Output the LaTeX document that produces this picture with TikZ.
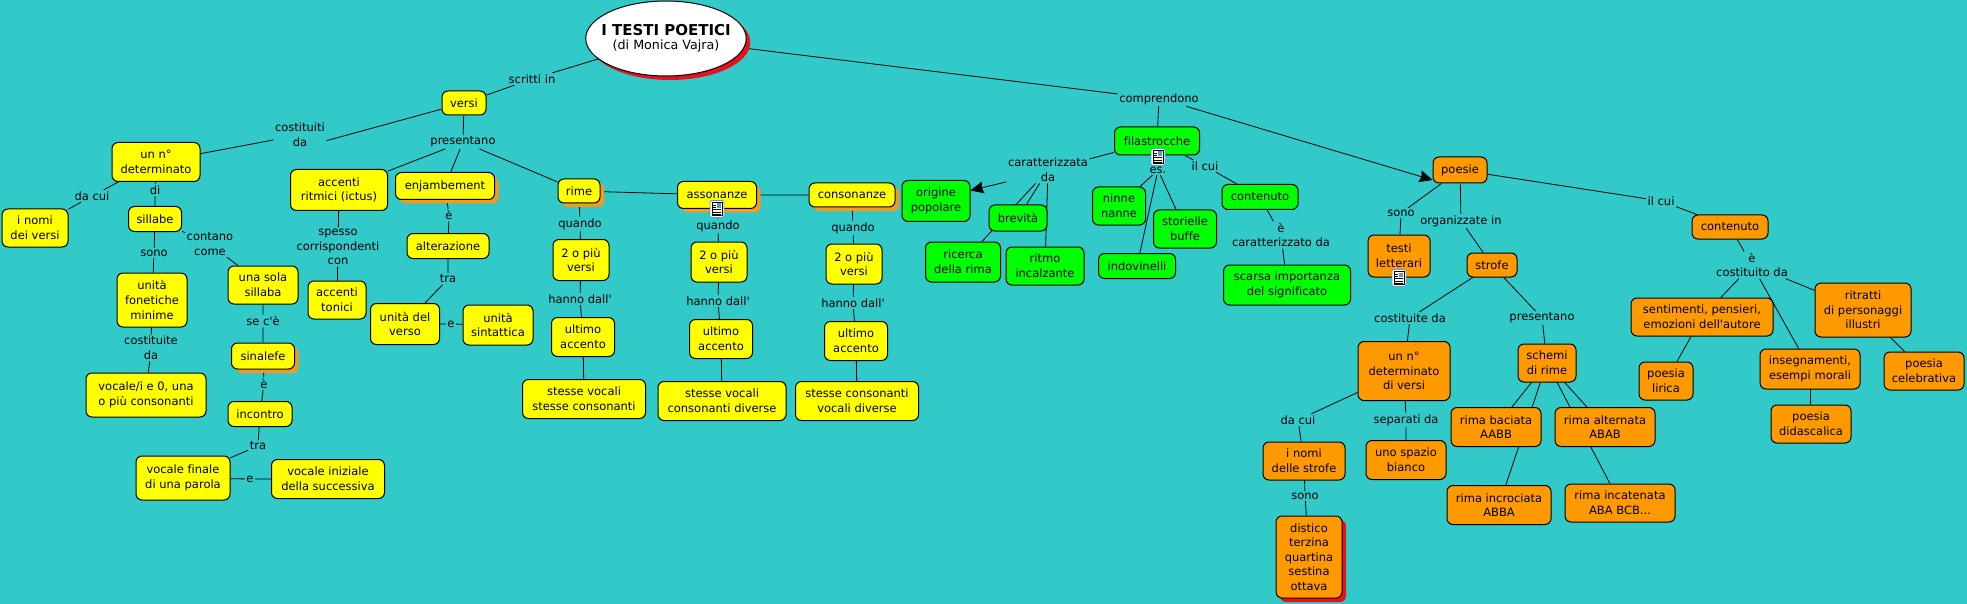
\documentclass[tikz,border=0pt]{standalone}
\usepackage{fontspec}
\defaultfontfeatures[\rmfamily]{}
\setmainfont{DejaVu Sans}[Ligatures=NoCommon]
\usetikzlibrary{shapes.geometric,shadows,positioning,arrows.meta,backgrounds}
\definecolor{seabg}{HTML}{32C9C9}
\definecolor{boxyel}{HTML}{FFFF00}
\definecolor{boxgrn}{HTML}{00FF00}
\definecolor{boxora}{HTML}{FF9900}
\definecolor{shadora}{HTML}{F59A1C}
\definecolor{shadred}{HTML}{E8101C}
\definecolor{icoblu}{HTML}{5C9CE0}
\definecolor{icocream}{HTML}{FFFFE0}
\tikzset{
  mapfont/.style={font=\fontsize{11.5}{14.6}\selectfont},
  sz/.style 2 args={minimum width=#1pt,minimum height=#2pt},
  box/.style={draw=black,line width=1pt,rounded corners=6pt,inner sep=0pt,align=center,mapfont},
  yel/.style={box,fill=boxyel},
  grn/.style={box,fill=boxgrn},
  ora/.style={box,fill=boxora},
  shora/.style={drop shadow={shadow xshift=4pt,shadow yshift=-4pt,fill=shadora,opacity=1}},
  shred/.style={drop shadow={shadow xshift=4pt,shadow yshift=-4pt,fill=shadred,opacity=1}},
  lnk/.style={inner sep=1.5pt,align=center,mapfont},
  conn/.style={draw=black,line width=.8pt},
  arr/.style={conn,-{Stealth[length=13pt,width=12pt,inset=1.5pt]}},
  docicon/.pic={
    \draw[icoblu,fill=white,line width=.8pt,rounded corners=1.5pt] (-7,-8.5) rectangle (7,8.5);
    \draw[black,fill=icocream,line width=.7pt] (-5,-6.5) rectangle (5,6.5);
    \fill[icoblu!70!gray] (0,-5.5) rectangle (4,-1);
    \draw[black,line width=.6pt] (-4,-4) -- (-1,-4) (-4,-2) -- (-1,-2) (-4,0.7) -- (4,0.7) (-4,3) -- (4,3) (-4,5) -- (4,5);
  },
}
\begin{document}
\begin{tikzpicture}[x=1pt,y=-1pt]
  \useasboundingbox (0,0) rectangle (1967,604);
  % root
  \node[ellipse,draw=black,line width=1pt,fill=white,inner ysep=0pt,inner xsep=-8pt,align=center,sz={157}{75},shred] (root) at (666,38.5) {\fontsize{15}{16}\selectfont\textbf{I TESTI POETICI}\\[2pt]\fontsize{12.7}{16}\selectfont(di Monica Vajra)};
  % yellow branch
  \node[yel,sz={44}{24}] (versi) at (464,103) {versi};
  \node[yel,sz={88}{39}] (numero) at (156,162) {un n°\\determinato};
  \node[yel,sz={66}{38}] (nomiversi) at (35,228) {i nomi\\dei versi};
  \node[yel,sz={53}{25}] (sillabe) at (155,219) {sillabe};
  \node[yel,sz={70}{54}] (unita) at (152,300) {unità\\fonetiche\\minime};
  \node[yel,sz={120}{44}] (vocali) at (146,395) {vocale/i e 0, una\\o più consonanti};
  \node[yel,sz={70}{38}] (sola) at (263,285) {una sola\\sillaba};
  \node[yel,sz={63}{26},shora] (sinalefe) at (263,356) {sinalefe};
  \node[yel,sz={64}{25}] (incontro) at (260,414) {incontro};
  \node[yel,sz={94}{44}] (vfinale) at (183,478) {vocale finale\\di una parola};
  \node[yel,sz={113}{39}] (viniziale) at (328,479) {vocale iniziale\\della successiva};
  \node[yel,sz={97}{41}] (accenti) at (339,190) {accenti\\ritmici (ictus)};
  \node[yel,sz={58}{38}] (tonici) at (337,300) {accenti\\tonici};
  \node[yel,sz={99}{27},shora] (enjamb) at (445,186) {enjambement};
  \node[yel,sz={82}{25}] (alteraz) at (448,246) {alterazione};
  \node[yel,sz={69}{41}] (uverso) at (405,324) {unità del\\verso};
  \node[yel,sz={70}{40}] (usint) at (498,325) {unità\\sintattica};
  \node[yel,sz={42}{24},shora] (rime) at (579,191) {rime};
  \node[yel,sz={56}{41}] (piuR) at (581,260) {2 o più\\versi};
  \node[yel,sz={63}{39}] (ultR) at (583,337) {ultimo\\accento};
  \node[yel,sz={123}{39}] (stesseR) at (584,399) {stesse vocali\\stesse consonanti};
  \node[yel,sz={79}{27},shora] (asson) at (717,195) {assonanze};
  \node[yel,sz={56}{40}] (piuA) at (719,262) {2 o più\\versi};
  \node[yel,sz={63}{39}] (ultA) at (721,339) {ultimo\\accento};
  \node[yel,sz={128}{39}] (stesseA) at (722,401) {stesse vocali\\consonanti diverse};
  \node[yel,sz={86}{24},shora] (conson) at (852,195) {consonanze};
  \node[yel,sz={56}{40}] (piuC) at (854,264) {2 o più\\versi};
  \node[yel,sz={63}{39}] (ultC) at (856,341) {ultimo\\accento};
  \node[yel,sz={123}{39}] (stesseC) at (857,401) {stesse consonanti\\vocali diverse};
  % green branch
  \node[grn,sz={85}{28}] (filas) at (1157,141) {filastrocche};
  \node[grn,sz={68}{41}] (origine) at (936,201) {origine\\popolare};
  \node[grn,sz={58}{26}] (brevita) at (1018,218) {brevità};
  \node[grn,sz={75}{40}] (ricerca) at (963,262) {ricerca\\della rima};
  \node[grn,sz={78}{38}] (ritmo) at (1045,266) {ritmo\\incalzante};
  \node[grn,sz={53}{38}] (ninne) at (1119,206) {ninne\\nanne};
  \node[grn,sz={63}{38}] (storielle) at (1185,229) {storielle\\buffe};
  \node[grn,sz={77}{25}] (indov) at (1137,266) {indovinelli};
  \node[grn,sz={76}{25}] (contF) at (1260,197) {contenuto};
  \node[grn,sz={127}{40}] (scarsa) at (1287,285) {scarsa importanza\\del significato};
  % orange branch
  \node[ora,sz={54}{26}] (poesie) at (1460,170) {poesie};
  \node[ora,sz={62}{42}] (testi) at (1399,256) {testi\\letterari};
  \node[ora,sz={50}{24}] (strofe) at (1492,265) {strofe};
  \node[ora,sz={92}{59}] (numversi) at (1404,371) {un n°\\determinato\\di versi};
  \node[ora,sz={82}{38}] (nomistrofe) at (1304,461) {i nomi\\delle strofe};
  \node[ora,sz={66}{82},shred] (distico) at (1309,557) {distico\\terzina\\quartina\\sestina\\ottava};
  \node[ora,sz={80}{39}] (spazio) at (1406,460) {uno spazio\\bianco};
  \node[ora,sz={58}{38}] (schemi) at (1547,363) {schemi\\di rime};
  \node[ora,sz={90}{39}] (baciata) at (1496,427) {rima baciata\\AABB};
  \node[ora,sz={100}{39}] (alternata) at (1605,427) {rima alternata\\ABAB};
  \node[ora,sz={104}{39}] (incrociata) at (1499,505) {rima incrociata\\ABBA};
  \node[ora,sz={110}{38}] (incatenata) at (1620,503) {rima incatenata\\ABA BCB...};
  \node[ora,sz={76}{24}] (contP) at (1730,227) {contenuto};
  \node[ora,sz={142}{38}] (sentim) at (1702,317) {sentimenti, pensieri,\\emozioni dell'autore};
  \node[ora,sz={54}{38}] (lirica) at (1666,381) {poesia\\lirica};
  \node[ora,sz={100}{40}] (insegn) at (1810,369) {insegnamenti,\\esempi morali};
  \node[ora,sz={80}{38}] (didasc) at (1811,424) {poesia\\didascalica};
  \node[ora,sz={96}{54}] (ritratti) at (1863,310) {ritratti\\di personaggi\\illustri};
  \node[ora,sz={80}{38}] (celebr) at (1924,371) {poesia\\celebrativa};
  % link labels
  \node[lnk] (lscritti) at (532,79) {scritti in};
  \node[lnk] (lcompr) at (1159,99) {comprendono};
  \node[lnk] (lcostit) at (300,135) {costituiti\\da};
  \node[lnk] (lpres) at (463,142) {presentano};
  \node[lnk] (ldacui) at (92,196) {da cui};
  \node[lnk] (ldi) at (155,190) {di};
  \node[lnk] (lsono) at (154,253) {sono};
  \node[lnk] (lcontano) at (210,244) {contano\\come};
  \node[lnk] (lcostda) at (151,348) {costituite\\da};
  \node[lnk] (lsece) at (263,321) {se c'è};
  \node[lnk] (leS) at (264,384) {è};
  \node[lnk] (ltraS) at (258,446) {tra};
  \node[lnk] (leV) at (250,479) {e};
  \node[lnk] (lspesso) at (338,247) {spesso\\corrispondenti\\con};
  \node[lnk] (leE) at (449,215) {è};
  \node[lnk] (ltraE) at (448,279) {tra};
  \node[lnk] (leU) at (451,324) {e};
  \node[lnk] (lquandoR) at (580,224) {quando};
  \node[lnk] (lhannoR) at (580,299) {hanno dall'};
  \node[lnk] (lquandoA) at (718,226) {quando};
  \node[lnk] (lhannoA) at (718,301) {hanno dall'};
  \node[lnk] (lquandoC) at (853,228) {quando};
  \node[lnk] (lhannoC) at (853,303) {hanno dall'};
  \node[lnk] (lcaratt) at (1048,170) {caratterizzata\\da};
  \node[lnk] (les) at (1158,170) {es.};
  \node[lnk] (lilcuiF) at (1205,166) {il cui};
  \node[lnk] (lcaratF) at (1281,235) {è\\caratterizzato da};
  \node[lnk] (lsonoP) at (1401,213) {sono};
  \node[lnk] (lorgan) at (1461,221) {organizzate in};
  \node[lnk] (lilcuiP) at (1661,201) {il cui};
  \node[lnk] (lcostP) at (1752,265) {è\\costituito da};
  \node[lnk] (lcostS) at (1410,318) {costituite da};
  \node[lnk] (lpresS) at (1542,318) {presentano};
  \node[lnk] (ldacuiS) at (1298,420) {da cui};
  \node[lnk] (lsepar) at (1406,420) {separati da};
  \node[lnk] (lsonoS) at (1305,496) {sono};
  % document icons
  \pic at (717,209) {docicon};
  \pic at (1158,157) {docicon};
  \pic at (1399,278) {docicon};
  \begin{pgfonlayer}{background}
    \fill[seabg] (0,0) rectangle (1967,604);
    % connectors
    \draw[conn] (root) -- (lscritti) (lscritti) -- (versi) (root) -- (lcompr) (lcompr) -- (filas);
    \draw[arr] (lcompr.-15) -- (poesie.200);
    \draw[conn] (versi) -- (lcostit.-12) (lcostit) -- (numero) (versi) -- (lpres);
    \draw[conn] (numero) -- (ldacui) (ldacui) -- (nomiversi) (numero) -- (ldi) (ldi) -- (sillabe);
    \draw[conn] (sillabe) -- (lsono) (lsono) -- (unita) (unita) -- (lcostda) (lcostda) -- (vocali);
    \draw[conn] (sillabe) -- (lcontano) (lcontano) -- (sola) (sola) -- (lsece) (lsece) -- (sinalefe);
    \draw[conn] (sinalefe) -- (leS) (leS) -- (incontro) (incontro) -- (ltraS) (ltraS) -- (vfinale);
    \draw[conn] (vfinale) -- (leV) (leV) -- (viniziale);
    \draw[conn] (lpres) -- (accenti) (lpres) -- (enjamb) (lpres) -- (rime);
    \draw[conn] (accenti) -- (lspesso) (lspesso) -- (tonici);
    \draw[conn] (enjamb) -- (leE) (leE) -- (alteraz) (alteraz) -- (ltraE) (ltraE) -- (uverso) (uverso) -- (leU) (leU) -- (usint);
    \draw[conn] (rime) -- (lquandoR) (lquandoR) -- (piuR) (piuR) -- (lhannoR) (lhannoR) -- (ultR) (ultR) -- (stesseR);
    \draw[conn] (rime) -- (asson) (asson) -- (conson);
    \draw[conn] (asson) -- (lquandoA) (lquandoA) -- (piuA) (piuA) -- (lhannoA) (lhannoA) -- (ultA) (ultA) -- (stesseA);
    \draw[conn] (conson) -- (lquandoC) (lquandoC) -- (piuC) (piuC) -- (lhannoC) (lhannoC) -- (ultC) (ultC) -- (stesseC);
    \draw[conn] (filas) -- (lcaratt) (lcaratt) -- (brevita) (lcaratt) -- (ricerca) (lcaratt) -- (ritmo);
    \draw[arr] (lcaratt.196) -- (origine.17);
    \draw[conn] (filas) -- (les) (les) -- (ninne) (les) -- (storielle) (les) -- (indov);
    \draw[conn] (filas) -- (lilcuiF) (lilcuiF) -- (contF) (contF) -- (lcaratF) (lcaratF) -- (scarsa);
    \draw[conn] (poesie) -- (lsonoP) (lsonoP) -- (testi) (poesie) -- (lorgan) (lorgan) -- (strofe);
    \draw[conn] (poesie) -- (lilcuiP) (lilcuiP) -- (contP) (contP) -- (lcostP);
    \draw[conn] (lcostP) -- (sentim) (lcostP) -- (insegn) (lcostP) -- (ritratti);
    \draw[conn] (sentim) -- (lirica) (insegn) -- (didasc) (ritratti) -- (celebr);
    \draw[conn] (strofe) -- (lcostS) (lcostS) -- (numversi) (strofe) -- (lpresS) (lpresS) -- (schemi);
    \draw[conn] (numversi) -- (ldacuiS) (ldacuiS) -- (nomistrofe) (nomistrofe) -- (lsonoS) (lsonoS) -- (distico);
    \draw[conn] (numversi) -- (lsepar) (lsepar) -- (spazio);
    \draw[conn] (schemi) -- (baciata) (schemi) -- (incrociata) (schemi) -- (alternata) (schemi) -- (incatenata);
  \end{pgfonlayer}
\end{tikzpicture}
\end{document}
